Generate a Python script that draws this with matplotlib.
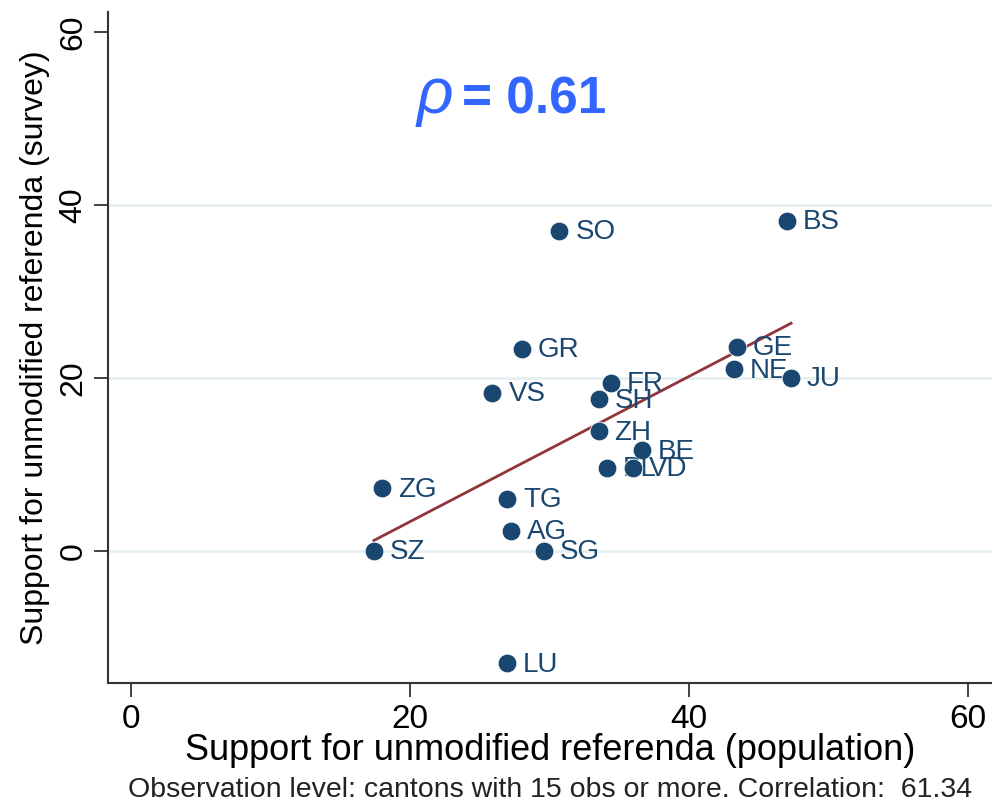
import numpy as np
import matplotlib
matplotlib.use("Agg")
import matplotlib.pyplot as plt

# ---- data ----
cantons = ["BS", "SO", "GR", "GE", "NE", "JU", "FR", "VS", "SH", "ZH",
           "BE", "BL", "VD", "ZG", "TG", "AG", "SZ", "SG", "LU"]
population = [47.0, 30.7, 28.0, 43.4, 43.2, 47.3, 34.4, 25.9, 33.5, 33.5,
              36.6, 34.1, 36.0, 18.0, 26.95, 27.2, 17.4, 29.6, 26.95]
survey = [38.15, 37.0, 23.35, 23.6, 21.0, 20.0, 19.4, 18.3, 17.5, 13.8,
          11.6, 9.6, 9.6, 7.2, 6.0, 2.3, 0.0, 0.0, -13.0]

x_ticks = [0, 20, 40, 60]
y_ticks = [0, 20, 40, 60]
gridlines = [0, 20, 40]
rho_text = "= 0.61"
x_label = "Support for unmodified referenda (population)"
y_label = "Support for unmodified referenda (survey)"
note = "Observation level: cantons with 15 obs or more. Correlation:  61.34"

# ---- style ----
plt.rcParams["font.family"] = ["Liberation Sans", "DejaVu Sans"]
plt.rcParams["mathtext.fontset"] = "custom"
plt.rcParams["mathtext.it"] = "Liberation Sans:italic"
plt.rcParams["mathtext.rm"] = "Liberation Sans"

navy = "#1a476f"
maroon = "#90353b"
grid_c = "#e6eff0"

fig = plt.figure(figsize=(9.92, 8.06), dpi=100)
ax = fig.add_axes([0.1089, 0.1526, 0.8911, 0.8324])

x = np.array(population)
y = np.array(survey)

for g in gridlines:
    ax.axhline(g, color=grid_c, lw=2, zorder=0)

slope, intercept = np.polyfit(x, y, 1)
xs = np.array([x.min(), x.max()])
ax.plot(xs, intercept + slope * xs, color=maroon, lw=2, zorder=2)

for i, (xi, yi, lab) in enumerate(zip(x, y, cantons)):
    ax.plot(xi, yi, "o", ms=13.5, color=navy, mec="white", mew=0.6, zorder=3 + 2 * i)
    ax.annotate(lab, (xi, yi), xytext=(11.5, -1), textcoords="offset points",
                va="center", ha="left", fontsize=20, color=navy, zorder=4 + 2 * i)

ax.set_xlim(-1.65, 61.7)
ax.set_ylim(-15.3, 62.3)
ax.set_xticks(x_ticks)
ax.set_yticks(y_ticks)
ax.set_xticklabels([str(t) for t in x_ticks], fontsize=24)
ax.set_yticklabels([str(t) for t in y_ticks], fontsize=23, rotation=90, va="center")
ax.tick_params(axis="both", length=10, width=1.3, color="#333333", direction="out")
ax.tick_params(axis="y", pad=4)
ax.tick_params(axis="x", pad=5)
for s in ["top", "right"]:
    ax.spines[s].set_visible(False)
for s in ["left", "bottom"]:
    ax.spines[s].set_linewidth(1.5)
    ax.spines[s].set_color("#333333")

ax.set_xlabel(x_label, fontsize=26)
ax.set_ylabel(y_label, fontsize=23)
ax.xaxis.set_label_coords(0.5004, -0.075)
ax.yaxis.set_label_coords(-0.066, 0.5)

ax.text(0.347, 0.8495, r"$\rho$", transform=ax.transAxes, fontsize=46,
        color="#3366ff", ha="left", va="baseline")
ax.text(0.4005, 0.8495, rho_text, transform=ax.transAxes, fontsize=37,
        color="#3366ff", fontweight="bold", ha="left", va="baseline")

fig.text(0.5545, 0.011, note, fontsize=20.5, ha="center", va="baseline", color="#222222")

fig.savefig("out.png", dpi=100)
